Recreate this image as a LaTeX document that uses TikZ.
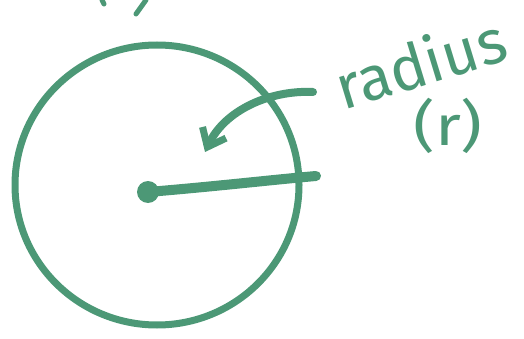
\documentclass[tikz,border=0pt]{standalone}
\usepackage{fontspec}
\setmainfont{Fira Sans}
\usetikzlibrary{arrows.meta}
\definecolor{ink}{RGB}{76,152,118}
\tikzset{
  pen/.style={draw=ink, line cap=round, line join=round},
  label/.style={text=ink, inner sep=0pt, font=\fontsize{62}{62}\selectfont}
}
\begin{document}
\begin{tikzpicture}[x=1pt,y=-1pt]
\useasboundingbox (0,0) rectangle (524,339);
% circle
\draw[pen, line width=7] (157,185) ellipse [x radius=142, y radius=140];
% centre and radius line
\node[circle, fill=ink, minimum size=22, inner sep=0] (c) at (148,192) {};
\coordinate (e) at (316,176);
\draw[pen, line width=10] (c.center) .. controls (220,186) and (270,180) .. (e);
% arrow
\coordinate (s) at (313,92);
\coordinate (t) at (205,152);
\draw[pen, line width=8, -{Straight Barb[length=16,width=26,line width=7]}] (s) .. controls (270,90) and (225,110) .. (t);
% labels
\node[label, rotate=17] (rad) at (420,62) {radius};
\node[label, font=\fontsize{56}{56}\selectfont, xscale=1.2] (rr) at (448,126) {(r)};
% top-left fragment
\draw[pen, line width=5] (102,0) -- (104,4);
\draw[pen, line width=5] (146,0) -- (136,14);
\end{tikzpicture}
\end{document}
